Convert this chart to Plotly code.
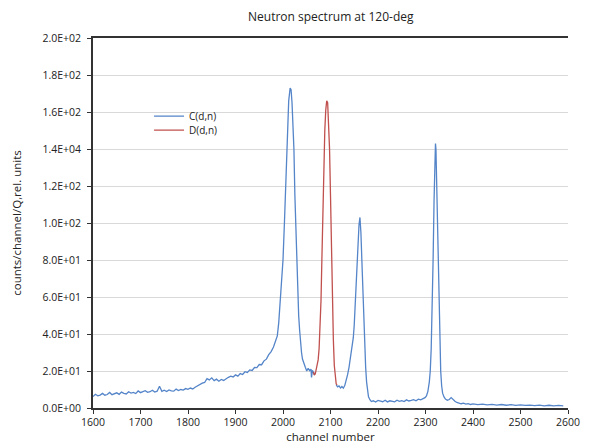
import plotly.graph_objects as go

# ---- data ----
c1_x = [1600,1605,1610,1615,1620,1625,1630,1635,1640,1645,1650,1655,1660,1665,1670,1675,1680,1685,1690,1695,
        1700,1705,1710,1715,1720,1725,1730,1735,1740,1745,1750,1755,1760,1765,1770,1775,1780,1785,1790,1795,
        1800,1805,1810,1815,1820,1825,1830,1835,1840,1845,1850,1855,1860,1865,1870,1875,1880,1885,1890,1895,
        1900,1905,1910,1915,1920,1925,1930,1935,1940,1945,1950,1955,1960,1965,1970,1975,1980,1984,1988,1991,
        1994,1997,2000,2003,2006,2009,2012,2015,2017,2019,2021,2023,2025,2027,2029,2031,2033,2035,2037,2039,
        2041,2044,2047,2050,2053,2056,2059,2060,2062,2065,2067]
c1_y = [6.2,7.4,6.6,7.0,7.9,6.9,7.3,8.4,7.2,7.7,8.2,7.4,8.6,7.9,7.6,8.8,8.1,8.4,7.8,9.2,
        8.3,8.9,9.4,8.5,8.8,9.6,8.6,9.1,11.8,9.0,9.6,8.9,9.8,9.3,9.1,10.2,9.4,10.0,9.7,10.5,
        10.1,10.8,10.3,11.2,12.0,12.9,13.4,13.8,15.9,15.2,16.3,14.8,15.6,14.5,15.4,14.9,16.0,16.6,17.2,16.8,
        17.9,17.2,18.6,18.1,19.6,19.2,20.6,20.3,21.9,21.8,23.5,23.4,25.5,26.4,28.8,30.5,33.0,35.5,39,46,
        56,66,80,100,125,150,166,173,172,165,155,140,115,95,78,62,50,42,35,30,
        26.5,23.5,22,20,21.5,20.2,21.0,16.5,20.4,18.5,19.0]

d_x = [2064,2066,2068,2070,2072,2074,2076,2078,2080,2082,2084,2086,2088,2090,2092,2094,2096,2098,2100,2102,
       2104,2106,2108,2110,2112,2114]
d_y = [19.5,17.8,18.5,20.5,23,26,32,42,58,82,108,132,150,161,166,165,156,140,115,85,
       58,37,23,16,13,12.5]

c2_x = [2112,2115,2118,2121,2124,2127,2130,2133,2136,2139,2142,2145,2148,2150,2152,2154,2156,2158,2160,2162,
        2164,2166,2168,2170,2172,2174,2176,2178,2180,2183,2186,2190,2195,2200,2205,2210,2215,2220,2225,2230,
        2235,2240,2245,2250,2255,2260,2265,2270,2275,2280,2285,2290,2295,2299,2302,2305,2308,2310,2312,2314,
        2316,2318,2320,2321,2322,2324,2326,2328,2330,2332,2334,2336,2339,2342,2346,2350,2354,2358,2362,2366,
        2370,2375,2380,2385,2390,2395,2400,2410,2420,2430,2440,2450,2460,2470,2480,2490,2500,2510,2520,2530,
        2540,2550,2560,2570,2580,2590]
c2_y = [12.5,11.4,11.9,10.8,11.6,10.7,12.1,14.5,18,22,27,33,38,45,55,67,80,92,99,103,
        95,80,62,45,32,22,14,9,6,4.5,3.5,3.9,3.2,4.1,3.6,3.4,4.2,3.3,3.9,3.7,
        3.3,4.2,3.6,4.0,3.5,4.4,3.8,4.1,4.5,3.9,4.8,4.4,5.0,5.6,6.5,9,14,20,32,52,
        80,112,138,143,140,118,88,60,36,20,12,8,6,4.8,4.2,4.6,5.6,4.5,3.6,3.0,
        2.8,2.3,2.6,2.1,2.4,1.9,2.2,1.8,2.1,1.7,2.0,1.6,1.9,1.5,1.8,1.4,1.7,1.4,1.6,1.3,
        1.6,1.2,1.5,1.2,1.4,1.2]

y_ticks = [0, 20, 40, 60, 80, 100, 120, 140, 160, 180, 200]
y_tick_text = ["0.0E+00", "2.0E+01", "4.0E+01", "6.0E+01", "8.0E+01", "1.0E+02",
               "1.2E+02", "1.4E+04", "1.6E+02", "1.8E+02", "2.0E+02"]
x_ticks = [1600, 1700, 1800, 1900, 2000, 2100, 2200, 2300, 2400, 2500, 2600]

BLUE = "#5585c9"
RED = "#c0504d"
FONT = "Open Sans"

fig = go.Figure()
fig.add_trace(go.Scatter(x=c1_x + [None] + c2_x, y=c1_y + [None] + c2_y, mode="lines",
                         name="C(d,n)", line=dict(color=BLUE, width=1.3), connectgaps=False,
                         legend="legend"))
fig.add_trace(go.Scatter(x=d_x, y=d_y, mode="lines", name="D(d,n)",
                         line=dict(color=RED, width=1.3), legend="legend2"))

leg_common = dict(xanchor="left", yanchor="middle", bgcolor="rgba(0,0,0,0)",
                  font=dict(family=FONT, size=10, color="#222222"), itemwidth=30,
                  borderwidth=0)

fig.update_layout(
    width=596, height=447,
    margin=dict(l=93, r=28, t=38, b=39),
    paper_bgcolor="white", plot_bgcolor="white",
    font=dict(family=FONT, size=10.5, color="#222222"),
    title=dict(text="Neutron spectrum at 120-deg", x=0.555, xanchor="center",
               y=0.962, yanchor="middle", font=dict(family=FONT, size=12, color="#222222")),
    showlegend=True,
    legend=dict(x=0.118, y=0.789, **leg_common),
    legend2=dict(x=0.118, y=0.751, **leg_common),
    xaxis=dict(range=[1600, 2600], tickvals=x_ticks, showgrid=False, showline=True,
               linecolor="#333333", linewidth=1.5, mirror=True, ticks="outside", ticklen=4,
               tickcolor="#333333", zeroline=False, automargin=False,
               title=dict(text="channel number", standoff=5, font=dict(family=FONT, size=11.5))),
    yaxis=dict(range=[0, 200], tickvals=y_ticks, ticktext=y_tick_text, showgrid=True,
               gridcolor="#d9d9d9", gridwidth=1, showline=True, linecolor="#333333",
               linewidth=1.5, ticks="outside", ticklen=4, tickcolor="#333333", zeroline=False,
               ticklabelstandoff=4, automargin=False,
               title=dict(text="counts/channel/Q,rel. units", standoff=19,
                          font=dict(family=FONT, size=11.5))),
)

fig.write_html("out.html")
